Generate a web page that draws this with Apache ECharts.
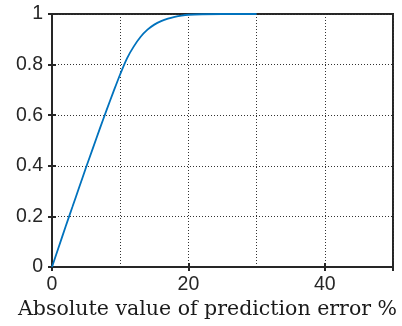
<!DOCTYPE html>
<html>
<head>
<meta charset="utf-8">
<script src="https://cdn.jsdelivr.net/npm/echarts@6/dist/echarts.min.js"></script>
<style>
  html, body { margin: 0; padding: 0; background: #fff; }
  #chart { width: 402px; height: 326px; }
</style>
</head>
<body>
<div id="chart"></div>
<script>
  // curve: error % vs cumulative fraction
  const errorPct = [0, 1, 2, 3, 4, 5, 6, 7, 8, 9, 10, 11, 12, 13, 14, 15, 16, 17, 18, 19, 20, 22, 25, 30];
  const cdfValues = [0, 0.08, 0.16, 0.238, 0.316, 0.394, 0.47, 0.546, 0.62, 0.692, 0.762, 0.825, 0.872, 0.91, 0.938, 0.958, 0.972, 0.982, 0.989, 0.994, 0.997, 0.999, 1, 1];
  const xTicks = [0, 20, 40];
  const yTicks = [0, 0.2, 0.4, 0.6, 0.8, 1];

  const axisColor = '#262626';
  const gridLine = { show: true, lineStyle: { color: '#333', type: [1, 2], width: 1 } };

  const chart = echarts.init(document.getElementById('chart'));

  chart.setOption({
    animation: false,
    grid: {
      left: 52, top: 14, right: 9, bottom: 59,
      show: true, borderColor: axisColor, borderWidth: 2
    },
    xAxis: [
      {
        type: 'value', min: 0, max: 50, interval: 20,
        axisLine: { show: true, lineStyle: { color: axisColor, width: 2 } },
        axisTick: { show: true, inside: true, length: 4, lineStyle: { color: axisColor, width: 2 } },
        splitLine: gridLine,
        minorTick: { show: false, splitNumber: 2 },
        minorSplitLine: gridLine,
        axisLabel: {
          color: '#262626', fontSize: 19.5, fontFamily: 'Liberation Sans', margin: 8,
          formatter: v => (xTicks.includes(v) ? String(v) : '')
        }
      },
      {
        type: 'value', position: 'top', min: 0, max: 50, interval: 20,
        axisLine: { show: false },
        axisTick: { show: true, inside: true, length: 4, lineStyle: { color: axisColor, width: 2 } },
        axisLabel: { show: false }, splitLine: { show: false }
      }
    ],
    yAxis: [
      {
        type: 'value', min: 0, max: 1, interval: 0.2,
        axisLine: { show: true, lineStyle: { color: axisColor, width: 2 } },
        axisTick: { show: true, inside: true, length: 4, lineStyle: { color: axisColor, width: 2 } },
        splitLine: gridLine,
        axisLabel: {
          color: '#262626', fontSize: 19.5, fontFamily: 'Liberation Sans', margin: 9,
          formatter: v => {
            const t = yTicks.find(y => Math.abs(y - v) < 1e-6);
            return t === undefined ? '' : String(t);
          }
        }
      },
      {
        type: 'value', position: 'right', min: 0, max: 1, interval: 0.2,
        axisLine: { show: false },
        axisTick: { show: true, inside: true, length: 4, lineStyle: { color: axisColor, width: 2 } },
        axisLabel: { show: false }, splitLine: { show: false }
      }
    ],
    graphic: [
      {
        type: 'text', left: 18, top: 299,
        style: {
          text: 'Absolute value of prediction error %',
          font: '20.5px "DejaVu Serif"', fill: '#1a1a1a'
        }
      }
    ],
    series: [
      {
        type: 'line',
        data: errorPct.map((x, i) => [x, cdfValues[i]]),
        showSymbol: false,
        smooth: 0.3,
        lineStyle: { color: '#0072BD', width: 1.8 },
        clip: false
      }
    ]
  });
</script>
</body>
</html>
